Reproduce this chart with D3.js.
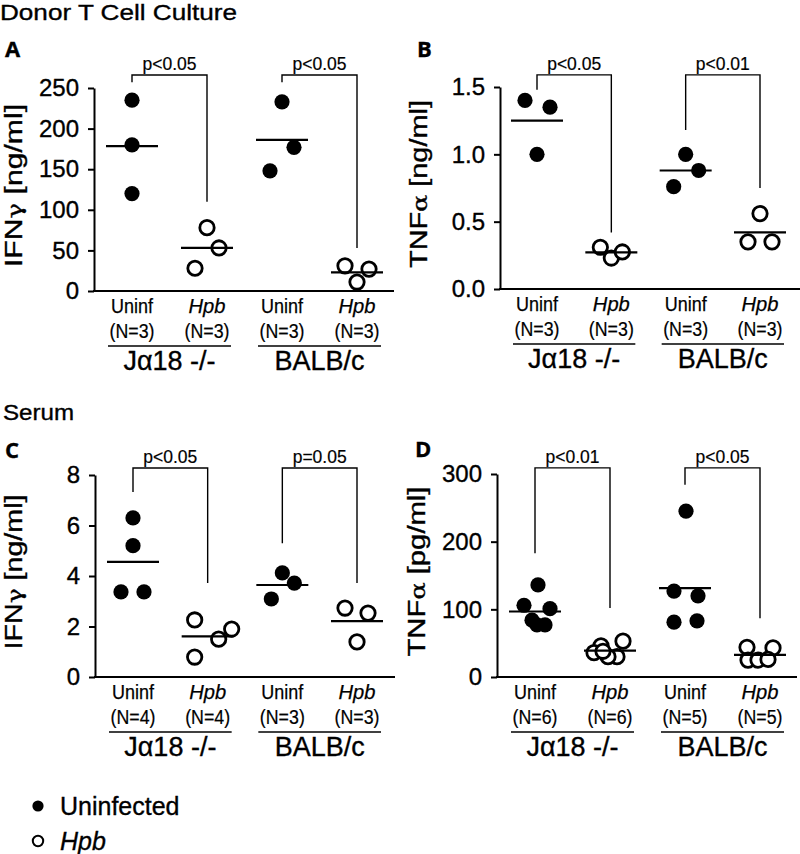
<!DOCTYPE html>
<html><head><meta charset="utf-8">
<script src="https://cdn.jsdelivr.net/npm/d3@7"></script>
<style>
body{margin:0;background:#fff}
text{font-family:"Liberation Sans",Arial,sans-serif;fill:#000;stroke:#000;stroke-width:0.35px}
</style>
</head><body>
<svg id="chart" width="800" height="854"></svg>
<script>
// ---------- DATA ----------
const categories = ["Uninf", "Hpb", "Uninf", "Hpb"];
const strains = ["Jα18 -/-", "BALB/c"];

// Panel A: IFNγ, donor T cell culture [ng/ml]
const aValues = [[235, 180, 120], [78, 53, 28], [233, 177, 148], [31, 27, 11]];
const aN = [3, 3, 3, 3];
const aTicks = [0, 50, 100, 150, 200, 250];
const aBrackets = [[266, 257, 110], [266, 257, 53]];   // [top, left end, right end]
const aP = ["p<0.05", "p<0.05"];

// Panel B: TNFα, donor T cell culture [ng/ml]
const bValues = [[1.40, 1.35, 1.00], [0.31, 0.23, 0.275], [1.00, 0.88, 0.76], [0.56, 0.35, 0.35]];
const bN = [3, 3, 3, 3];
const bTicks = [0, 0.5, 1.0, 1.5];
const bBrackets = [[1.59, 1.48, 0.42], [1.59, 1.18, 0.75]];
const bP = ["p<0.05", "p<0.01"];

// Panel C: IFNγ, serum [ng/ml]
const cValues = [[6.3, 5.2, 3.37, 3.37], [2.26, 1.9, 1.5, 0.79], [4.12, 3.72, 3.09], [2.73, 2.53, 1.39]];
const cN = [4, 4, 3, 3];
const cTicks = [0, 2, 4, 6, 8];
const cBrackets = [[8.28, 7.33, 3.72], [8.28, 5.3, 3.72]];
const cP = ["p<0.05", "p=0.05"];

// Panel D: TNFα, serum [pg/ml]
const dValues = [[136, 106, 101, 84, 77, 77], [46, 53, 36, 30, 30, 38], [245, 127, 120, 81, 83], [44, 43, 25, 25, 26]];
const dN = [6, 6, 5, 5];
const dTicks = [0, 100, 200, 300];
const dBrackets = [[309, 183, 102], [309, 284, 87]];
const dP = ["p<0.01", "p<0.05"];

// horizontal scatter of the dots (px from the category centre)
const aJitter = [[0, 0, 0], [0, 12, -12], [0, 12, -12], [-12, 12, 0]];
const bJitter = [[-12, 13, 0], [-11, 0, 11], [0, 13, -12], [0, -12, 12]];
const cJitter = [[0, 0, -12, 11], [-13, 24, 11, -13], [0, 12, -11], [-12, 11, 0]];
const dJitter = [[3, -11, 15, -3, 2, 10], [-9, 13, -16, 7, -2, -7], [1, -11, 13, -11, 12], [-13, 13, -12, -2, 8]];

// ---------- LAYOUT ----------
const svg = d3.select("#chart");
const FONT = '"Liberation Sans", Arial, sans-serif';

const panels = [
  {values: aValues, jitter: aJitter, n: aN, ticks: aTicks, fmt: d3.format("d"), brackets: aBrackets, p: aP,
   ylabel: ["IFN", "γ", " [ng/ml]"], letter: "A", ax: 94, yTop: 88, yBot: 291, max: 250,
   letterX: 5, letterY: 57, c0: 132, c1: 357, ylabBase: 21.5, ylabLen: 163},
  {values: bValues, jitter: bJitter, n: bN, ticks: bTicks, fmt: d3.format(".1f"), brackets: bBrackets, p: bP,
   ylabel: ["TNF", "α", " [ng/ml]"], letter: "B", ax: 500, yTop: 87, yBot: 289, max: 1.5,
   letterX: 417, letterY: 57, c0: 537, c1: 760, ylabBase: 427, ylabLen: 168},
  {values: cValues, jitter: cJitter, n: cN, ticks: cTicks, fmt: d3.format("d"), brackets: cBrackets, p: cP,
   ylabel: ["IFN", "γ", " [ng/ml]"], letter: "C", ax: 95, yTop: 475, yBot: 677, max: 8,
   letterX: 5, letterY: 458, c0: 133, c1: 357, ylabBase: 21.5, ylabLen: 155},
  {values: dValues, jitter: dJitter, n: dN, ticks: dTicks, fmt: d3.format("d"), brackets: dBrackets, p: dP,
   ylabel: ["TNF", "α", " [pg/ml]"], letter: "D", ax: 497, yTop: 474, yBot: 677, max: 300,
   letterX: 415, letterY: 457, c0: 535, c1: 760, ylabBase: 425, ylabLen: 170}
];

// section titles
svg.append("text").attr("x", 0).attr("y", 20).style("font-size", "22px")
  .attr("textLength", 237).attr("lengthAdjust", "spacingAndGlyphs").text("Donor T Cell Culture");
svg.append("text").attr("x", 3).attr("y", 420).style("font-size", "22px")
  .attr("textLength", 71).attr("lengthAdjust", "spacingAndGlyphs").text("Serum");

panels.forEach(P => {
  const g = svg.append("g");
  const y = d3.scaleLinear().domain([0, P.max]).range([P.yBot, P.yTop]);
  const x = d3.scalePoint().domain(d3.range(4)).range([P.c0, P.c1]);

  // y axis
  const yAxis = d3.axisLeft(y).tickValues(P.ticks).tickFormat(P.fmt).tickSize(6).tickSizeOuter(0).tickPadding(9);
  const ga = g.append("g").attr("transform", `translate(${P.ax},0)`).call(yAxis);
  ga.select(".domain").attr("stroke-width", 2);
  ga.selectAll(".tick line").attr("stroke-width", 2);
  ga.selectAll(".tick text").style("font-size", "24px").style("font-family", FONT).attr("fill", "#000");

  // x baseline
  g.append("line").attr("x1", P.ax - 1).attr("x2", P.ax + 300).attr("y1", y(0)).attr("y2", y(0))
    .attr("stroke", "#000").attr("stroke-width", 2);

  // y label
  const yl = g.append("text")
    .attr("transform", `translate(${P.ylabBase},${(P.yTop + P.yBot) / 2 - 4}) rotate(-90)`)
    .attr("text-anchor", "middle").style("font-size", "23px")
    .attr("textLength", P.ylabLen).attr("lengthAdjust", "spacingAndGlyphs");
  yl.append("tspan").text(P.ylabel[0]);
  yl.append("tspan").style("font-family", '"DejaVu Serif", serif').style("font-size", "20px").text(P.ylabel[1]);
  yl.append("tspan").text(P.ylabel[2]);

  // panel letter
  g.append("text").attr("x", P.letterX).attr("y", P.letterY).style("font-size", "22px")
    .style("font-weight", "bold").style("font-family", '"Open Sans", sans-serif').text(P.letter);

  // dots
  P.values.forEach((vals, i) => {
    const filled = i % 2 === 0;
    g.selectAll(null).data(vals).enter().append("circle")
      .attr("cx", (d, k) => x(i) + P.jitter[i][k])
      .attr("cy", d => y(d))
      .attr("r", filled ? 7.6 : 7.2)
      .attr("fill", filled ? "#000" : "#fff")
      .attr("stroke", "#000").attr("stroke-width", filled ? 0 : 2.8);
    const m = d3.mean(vals);
    g.append("line").attr("x1", x(i) - 26).attr("x2", x(i) + 26).attr("y1", y(m)).attr("y2", y(m))
      .attr("stroke", "#000").attr("stroke-width", 2.2);
  });

  // brackets
  P.brackets.forEach((b, j) => {
    const xl = x(j * 2), xr = x(j * 2 + 1);
    g.append("path")
      .attr("d", `M${xl},${y(b[1])}V${y(b[0])}H${xr}V${y(b[2])}`)
      .attr("fill", "none").attr("stroke", "#000").attr("stroke-width", 1.4);
    g.append("text").attr("x", (xl + xr) / 2).attr("y", y(b[0]) - 5).attr("text-anchor", "middle")
      .style("font-size", "18px").style("stroke-width", "0.2px")
      .attr("textLength", 54).attr("lengthAdjust", "spacingAndGlyphs").text(P.p[j]);
  });

  // x labels
  const y0 = y(0);
  categories.forEach((c, i) => {
    const it = i % 2 === 1;
    g.append("text").attr("x", x(i)).attr("y", y0 + 22).attr("text-anchor", "middle")
      .style("font-size", "21px").style("font-style", it ? "italic" : "normal").style("stroke-width", "0.25px")
      .attr("textLength", it ? 37 : 42).attr("lengthAdjust", "spacingAndGlyphs").text(c);
    g.append("text").attr("x", x(i)).attr("y", y0 + 47).attr("text-anchor", "middle")
      .style("font-size", "20px").style("stroke-width", "0.2px")
      .attr("textLength", 45).attr("lengthAdjust", "spacingAndGlyphs")
      .text(`(N=${P.n[i]})`);
  });
  strains.forEach((s, j) => {
    const xl = x(j * 2) - 24, xr = x(j * 2 + 1) + 24;
    g.append("line").attr("x1", xl).attr("x2", xr).attr("y1", y0 + 55).attr("y2", y0 + 55)
      .attr("stroke", "#000").attr("stroke-width", 1.6);
    g.append("text").attr("x", (xl + xr) / 2).attr("y", y0 + 79).attr("text-anchor", "middle")
      .style("font-size", "27px").text(s);
  });
});

// legend
const legend = [{label: "Uninfected", filled: true, italic: false}, {label: "Hpb", filled: false, italic: true}];
legend.forEach((l, i) => {
  svg.append("circle").attr("cx", 38).attr("cy", 806 + i * 35).attr("r", l.filled ? 5.6 : 5.2)
    .attr("fill", l.filled ? "#000" : "#fff").attr("stroke", "#000").attr("stroke-width", l.filled ? 0 : 2);
  svg.append("text").attr("x", 60).attr("y", 815 + i * 35).style("font-size", "25px")
    .style("font-style", l.italic ? "italic" : "normal").text(l.label);
});
</script>
</body></html>
